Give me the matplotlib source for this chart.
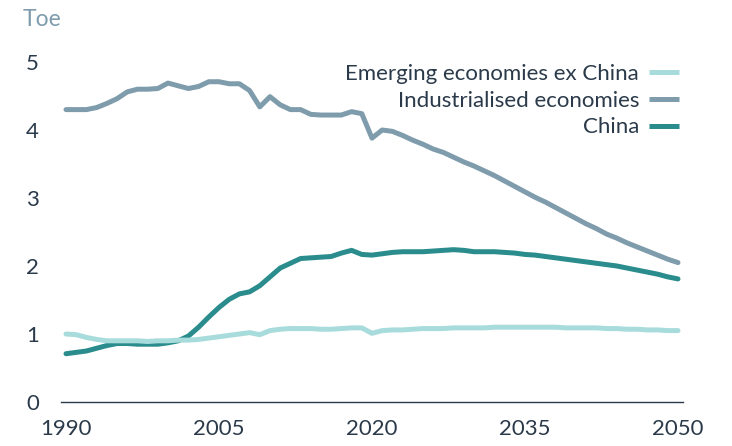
import matplotlib.pyplot as plt
import matplotlib as mpl

mpl.rcParams['font.family'] = ['Lato', 'DejaVu Sans']

# 年份
years = list(range(1990, 2051))

# 各地区人均能源消费 (Toe)
emerging = [1.00, 0.99, 0.95, 0.92, 0.90, 0.90, 0.90, 0.90, 0.89, 0.90,
            0.90, 0.91, 0.91, 0.92, 0.94, 0.96, 0.98, 1.00, 1.02, 0.99,
            1.05, 1.07, 1.08, 1.08, 1.08, 1.07, 1.07, 1.08, 1.09, 1.09,
            1.01, 1.05, 1.06, 1.06, 1.07, 1.08, 1.08, 1.08, 1.09, 1.09,
            1.09, 1.09, 1.10, 1.10, 1.10, 1.10, 1.10, 1.10, 1.10, 1.09,
            1.09, 1.09, 1.09, 1.08, 1.08, 1.07, 1.07, 1.06, 1.06, 1.05,
            1.05]
industrialised = [4.30, 4.30, 4.30, 4.33, 4.39, 4.46, 4.56, 4.60, 4.60, 4.61,
                  4.69, 4.65, 4.61, 4.64, 4.71, 4.71, 4.68, 4.68, 4.58, 4.34,
                  4.49, 4.37, 4.30, 4.30, 4.23, 4.22, 4.22, 4.22, 4.27, 4.24,
                  3.88, 4.00, 3.98, 3.92, 3.85, 3.79, 3.72, 3.67, 3.60, 3.53,
                  3.47, 3.40, 3.33, 3.25, 3.17, 3.09, 3.01, 2.94, 2.86, 2.78,
                  2.70, 2.62, 2.55, 2.47, 2.41, 2.34, 2.28, 2.22, 2.16, 2.10,
                  2.05]
china = [0.71, 0.73, 0.75, 0.79, 0.83, 0.86, 0.86, 0.85, 0.85, 0.85,
         0.87, 0.90, 0.97, 1.10, 1.25, 1.39, 1.51, 1.59, 1.62, 1.71,
         1.84, 1.97, 2.04, 2.11, 2.12, 2.13, 2.14, 2.19, 2.23, 2.17,
         2.16, 2.18, 2.20, 2.21, 2.21, 2.21, 2.22, 2.23, 2.24, 2.23,
         2.21, 2.21, 2.21, 2.20, 2.19, 2.17, 2.16, 2.14, 2.12, 2.10,
         2.08, 2.06, 2.04, 2.02, 2.00, 1.97, 1.94, 1.91, 1.88, 1.84,
         1.81]

labels = ['Emerging economies ex China', 'Industrialised economies', 'China']
colors = ['#a8dcdc', '#7f9cad', '#2a8c8c']
xticks = [1990, 2005, 2020, 2035, 2050]
yticks = [0, 1, 2, 3, 4, 5]

text_color = '#2b3a4a'

fig = plt.figure(figsize=(7.32, 4.46), dpi=100, facecolor='w')
ax = fig.add_axes([61 / 732, 44 / 446, 622 / 732, 360 / 446])

lw = 3.6
h_ind, = ax.plot(years, industrialised, color=colors[1], lw=lw, solid_capstyle='round', solid_joinstyle='round')
h_chn, = ax.plot(years, china, color=colors[2], lw=lw, solid_capstyle='round', solid_joinstyle='round')
h_emg, = ax.plot(years, emerging, color=colors[0], lw=lw, solid_capstyle='round', solid_joinstyle='round')

ax.set_xlim(1990 - 5 / 10.2, 2050 + 5 / 10.2)
ax.set_ylim(0, 360 / 68)
ax.set_xticks(xticks)
ax.set_yticks(yticks)
ax.tick_params(length=0, labelsize=16, labelcolor=text_color)
ax.tick_params(axis='x', pad=12)
ax.tick_params(axis='y', pad=16)

for s in ['top', 'right', 'left']:
    ax.spines[s].set_visible(False)
ax.spines['bottom'].set_color(text_color)
ax.spines['bottom'].set_linewidth(1.0)

fig.text(23 / 732, 1 - 19 / 446, 'Toe', color=colors[1], fontsize=16.5, va='center', ha='left')

leg = ax.legend([h_emg, h_ind, h_chn], labels, frameon=False, markerfirst=False,
                loc='upper right', bbox_to_anchor=(679 / 732, 1 - 64 / 446),
                bbox_transform=fig.transFigure, fontsize=16, handlelength=1.35,
                handletextpad=0.45, labelspacing=0.3, borderpad=0, borderaxespad=0)
for t in leg.get_texts():
    t.set_color(text_color)
    t.set_ha('right')
for l in leg.get_lines():
    l.set_linewidth(3.6)
    l.set_solid_capstyle('butt')

fig.savefig('out.png', dpi=100, facecolor='w')
